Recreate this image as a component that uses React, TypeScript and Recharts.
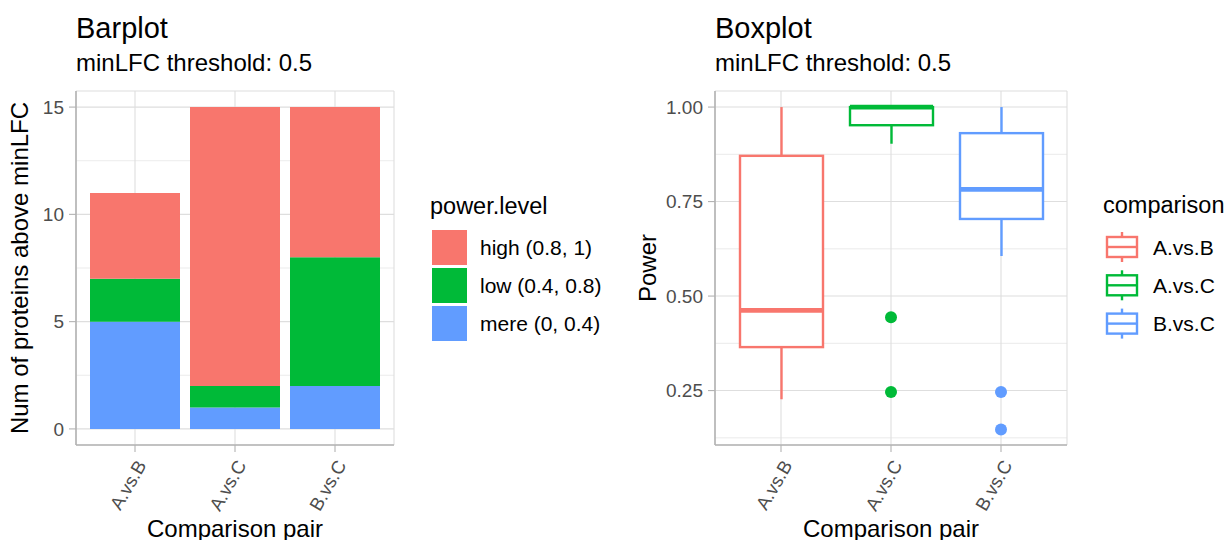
import React from 'react';
import { ComposedChart, Bar, XAxis, YAxis, CartesianGrid, Scatter, Legend, Label } from 'recharts';

const FONT = '"Liberation Sans", Arial, Helvetica, sans-serif';
const GREY30 = '#4D4D4D';
const GREY70 = '#B3B3B3';
const GREY87 = '#DEDEDE';

// ---------- Barplot data ----------
const categories = ['A.vs.B', 'A.vs.C', 'B.vs.C'];
const mereCounts = [5, 1, 2];
const lowCounts = [2, 1, 6];
const highCounts = [4, 13, 7];
const powerLevels = ['high (0.8, 1)', 'low (0.4, 0.8)', 'mere (0, 0.4)'];
const powerColors = ['#F8766D', '#00BA38', '#619CFF'];
const barTicks = [0, 5, 10, 15];
const barMinorTicks = [2.5, 7.5, 12.5];

// ---------- Boxplot data ----------
const whiskerLow = [0.227, 0.903, 0.606];
const q1Values = [0.365, 0.952, 0.704];
const medianValues = [0.462, 1.0, 0.782];
const q3Values = [0.871, 1.0, 0.931];
const whiskerHigh = [1.0, 1.0, 1.0];
const outlierFirst: (number | null)[] = [null, 0.444, 0.246];
const outlierSecond: (number | null)[] = [null, 0.246, 0.147];
const compColors = ['#F8766D', '#00BA38', '#619CFF'];
const powerTicks = [0.25, 0.5, 0.75, 1.0];
const powerTickLabels = ['0.25', '0.50', '0.75', '1.00'];
const powerMinorTicks = [0.125, 0.375, 0.625, 0.875];

const barRows = categories.map((cat, i) => ({
  cat,
  mere: mereCounts[i],
  low: lowCounts[i],
  high: highCounts[i],
}));

const boxRows = categories.map((cat, i) => ({
  cat,
  lo: whiskerLow[i],
  q1: q1Values[i],
  med: medianValues[i],
  q3: q3Values[i],
  hi: whiskerHigh[i],
  out1: outlierFirst[i],
  out2: outlierSecond[i],
  color: compColors[i],
}));

const RotTick = (props: any) => {
  const { x, y, payload } = props;
  const ax = x + 12;
  const ay = y + 11;
  return (
    <text
      x={ax}
      y={ay}
      textAnchor="end"
      fill={GREY30}
      fontSize={18.5}
      fontFamily={FONT}
      transform={`rotate(-60 ${ax} ${ay})`}
    >
      {payload.value}
    </text>
  );
};

const BoxShape = (props: any) => {
  const { x, y, width, height, payload } = props;
  const top = Math.min(y, y + height);
  const h = Math.abs(height);
  const span = payload.hi - payload.lo;
  const ppu = span > 0 ? h / span : 0;
  const py = (v: number) => top + (payload.hi - v) * ppu;
  const cx = x + width / 2;
  const c = payload.color;
  const lw = 2.4;
  return (
    <g>
      <line x1={cx} x2={cx} y1={py(payload.hi)} y2={py(payload.q3)} stroke={c} strokeWidth={lw} />
      <line x1={cx} x2={cx} y1={py(payload.q1)} y2={py(payload.lo)} stroke={c} strokeWidth={lw} />
      <rect
        x={x}
        y={py(payload.q3)}
        width={width}
        height={Math.max(0, py(payload.q1) - py(payload.q3))}
        fill="#FFFFFF"
        stroke={c}
        strokeWidth={lw}
      />
      <line x1={x} x2={x + width} y1={py(payload.med)} y2={py(payload.med)} stroke={c} strokeWidth={lw * 2} />
    </g>
  );
};

const OutlierDot = (props: any) => {
  const { cx, cy, payload } = props;
  if (cx == null || cy == null || !Number.isFinite(cx) || !Number.isFinite(cy)) return null;
  return <circle cx={cx} cy={cy} r={6} fill={payload.color} />;
};

const PowerLegend = () => (
  <svg width={200} height={160} style={{ display: 'block', overflow: 'visible' }}>
    <text x={5} y={24} fontSize={23.5} fontFamily={FONT} fill="#000">power.level</text>
    {powerLevels.map((lab, i) => (
      <g key={lab}>
        <rect x={7} y={40 + 38 * i} width={35} height={35} fill={powerColors[i]} />
        <text x={55} y={40 + 38 * i + 17.5} dominantBaseline="central" fontSize={21} fontFamily={FONT} fill="#000">
          {lab}
        </text>
      </g>
    ))}
  </svg>
);

const CompLegend = () => (
  <svg width={140} height={160} style={{ display: 'block', overflow: 'visible' }}>
    <text x={8} y={23} fontSize={23.5} fontFamily={FONT} fill="#000">comparison</text>
    {categories.map((lab, i) => {
      const cy = 57 + 38.3 * i;
      const c = compColors[i];
      return (
        <g key={lab}>
          <line x1={27} x2={27} y1={cy - 15} y2={cy + 15} stroke={c} strokeWidth={2.4} />
          <rect x={12} y={cy - 10} width={30} height={20} fill="#fff" stroke={c} strokeWidth={2.4} />
          <line x1={12} x2={42} y1={cy} y2={cy} stroke={c} strokeWidth={2.4} />
          <text x={58} y={cy} dominantBaseline="central" fontSize={21} fontFamily={FONT} fill="#000">
            {lab}
          </text>
        </g>
      );
    })}
  </svg>
);

const yTitle = (text: string, bx: number) => (props: any) => {
  const vb = props.viewBox || {};
  const cy = vb.y + vb.height / 2;
  return (
    <text
      x={bx}
      y={cy}
      textAnchor="middle"
      fontSize={24}
      fontFamily={FONT}
      fill="#000"
      transform={`rotate(-90 ${bx} ${cy})`}
    >
      {text}
    </text>
  );
};

const xTitle = (text: string) => (props: any) => {
  const vb = props.viewBox || {};
  return (
    <text
      x={vb.x + vb.width / 2}
      y={vb.y + vb.height - 3.5}
      textAnchor="middle"
      fontSize={24}
      fontFamily={FONT}
      fill="#000"
    >
      {text}
    </text>
  );
};

export default function App() {
  return (
    <div style={{ position: 'absolute', left: 0, top: 0, width: 1229, height: 540, background: '#fff' }}>
      {/* Left: Barplot */}
      <div style={{ position: 'absolute', left: 0, top: 0 }}>
        <ComposedChart
          width={600}
          height={540}
          data={barRows}
          margin={{ top: 91, right: 206, bottom: 0, left: 0 }}
        >
          <CartesianGrid vertical={false} horizontalValues={barMinorTicks} stroke={GREY87} strokeWidth={0.6} />
          <CartesianGrid stroke={GREY87} strokeWidth={1.1} />
          <XAxis
            dataKey="cat"
            type="category"
            padding={{ left: 9, right: 9 }}
            height={95}
            interval={0}
            tickSize={7}
            tickLine={{ stroke: GREY70, strokeWidth: 1.1 }}
            axisLine={{ stroke: GREY70, strokeWidth: 1.6 }}
            tick={<RotTick />}
          >
            <Label content={xTitle('Comparison pair')} />
          </XAxis>
          <XAxis
            xAxisId="top"
            orientation="top"
            dataKey="cat"
            padding={{ left: 9, right: 9 }}
            height={0}
            tick={false}
            tickLine={false}
            axisLine={{ stroke: GREY70, strokeWidth: 1.6 }}
          />
          <YAxis
            type="number"
            domain={[-0.75, 15.75]}
            ticks={barTicks}
            allowDataOverflow
            width={76}
            tickSize={7}
            tickMargin={5}
            tickLine={{ stroke: GREY70, strokeWidth: 1.1 }}
            axisLine={{ stroke: GREY70, strokeWidth: 1.6 }}
            tick={{ fill: GREY30, fontSize: 19, fontFamily: FONT }}
          >
            <Label content={yTitle('Num of proteins above minLFC', 28)} />
          </YAxis>
          <YAxis
            yAxisId="right"
            orientation="right"
            type="number"
            domain={[-0.75, 15.75]}
            width={0}
            tick={false}
            tickLine={false}
            axisLine={{ stroke: GREY70, strokeWidth: 1.6 }}
          />
          <Bar dataKey="mere" name={powerLevels[2]} stackId="s" fill={powerColors[2]} barSize={90} isAnimationActive={false} />
          <Bar dataKey="low" name={powerLevels[1]} stackId="s" fill={powerColors[1]} barSize={90} isAnimationActive={false} />
          <Bar dataKey="high" name={powerLevels[0]} stackId="s" fill={powerColors[0]} barSize={90} isAnimationActive={false} />
          <Legend
            layout="horizontal"
            verticalAlign="middle"
            align="center"
            wrapperStyle={{ left: 425, top: 190, width: 200, height: 160 }}
            content={() => <PowerLegend />}
          />
        </ComposedChart>
      </div>

      {/* Right: Boxplot */}
      <div style={{ position: 'absolute', left: 600, top: 0 }}>
        <ComposedChart
          width={629}
          height={540}
          data={boxRows}
          margin={{ top: 91, right: 162, bottom: 0, left: 0 }}
        >
          <CartesianGrid vertical={false} horizontalValues={powerMinorTicks} stroke={GREY87} strokeWidth={0.6} />
          <CartesianGrid stroke={GREY87} strokeWidth={1.1} />
          <XAxis
            dataKey="cat"
            type="category"
            padding={{ left: 11, right: 11 }}
            height={95}
            interval={0}
            tickSize={7}
            tickLine={{ stroke: GREY70, strokeWidth: 1.1 }}
            axisLine={{ stroke: GREY70, strokeWidth: 1.6 }}
            tick={<RotTick />}
          >
            <Label content={xTitle('Comparison pair')} />
          </XAxis>
          <XAxis
            xAxisId="top"
            orientation="top"
            dataKey="cat"
            padding={{ left: 11, right: 11 }}
            height={0}
            tick={false}
            tickLine={false}
            axisLine={{ stroke: GREY70, strokeWidth: 1.6 }}
          />
          <YAxis
            type="number"
            domain={[0.106, 1.0425]}
            ticks={powerTicks}
            allowDataOverflow
            width={115}
            tickSize={7}
            tickMargin={5}
            tickFormatter={(v: number) => powerTickLabels[powerTicks.indexOf(v)] ?? String(v)}
            tickLine={{ stroke: GREY70, strokeWidth: 1.1 }}
            axisLine={{ stroke: GREY70, strokeWidth: 1.6 }}
            tick={{ fill: GREY30, fontSize: 19, fontFamily: FONT }}
          >
            <Label content={yTitle('Power', 56)} />
          </YAxis>
          <YAxis
            yAxisId="right"
            orientation="right"
            type="number"
            domain={[0.106, 1.0425]}
            width={0}
            tick={false}
            tickLine={false}
            axisLine={{ stroke: GREY70, strokeWidth: 1.6 }}
          />
          <Bar
            dataKey={(d: any) => [d.lo, d.hi]}
            barSize={83}
            shape={<BoxShape />}
            isAnimationActive={false}
            legendType="none"
          />
          <Scatter dataKey="out1" shape={<OutlierDot />} isAnimationActive={false} legendType="none" />
          <Scatter dataKey="out2" shape={<OutlierDot />} isAnimationActive={false} legendType="none" />
          <Legend
            layout="horizontal"
            verticalAlign="middle"
            align="center"
            wrapperStyle={{ left: 495, top: 190, width: 140, height: 160 }}
            content={() => <CompLegend />}
          />
        </ComposedChart>
      </div>

      {/* Titles */}
      <svg
        width={1229}
        height={540}
        style={{ position: 'absolute', left: 0, top: 0, pointerEvents: 'none' }}
      >
        <text x={76} y={37.5} fontSize={29} fontFamily={FONT} fill="#000">Barplot</text>
        <text x={76} y={71} fontSize={24} fontFamily={FONT} fill="#000">minLFC threshold: 0.5</text>
        <text x={715} y={37.5} fontSize={29} fontFamily={FONT} fill="#000">Boxplot</text>
        <text x={715} y={71} fontSize={24} fontFamily={FONT} fill="#000">minLFC threshold: 0.5</text>
      </svg>
    </div>
  );
}
